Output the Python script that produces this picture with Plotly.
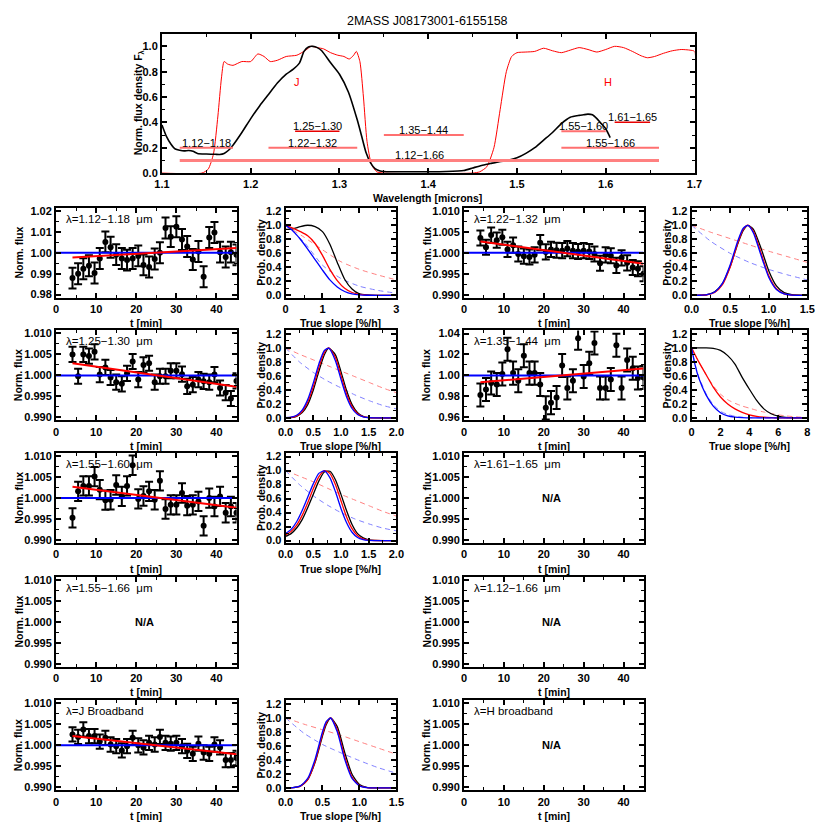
import plotly.graph_objects as go

# ---------------------------------------------------------------- data
# top panel: filter transmission (J and H) and the object's spectrum
filt_wl = [
    1.100, 1.145, 1.152, 1.158, 1.163, 1.167, 1.170, 1.174, 1.180, 1.190,
    1.200, 1.208, 1.215, 1.222, 1.230, 1.240, 1.252, 1.262, 1.268, 1.275,
    1.282, 1.290, 1.298, 1.305, 1.311, 1.316, 1.319, 1.323, 1.327, 1.331,
    1.336, 1.342, 1.350, 1.450, 1.458, 1.466, 1.474, 1.481, 1.488, 1.494,
    1.500, 1.510, 1.520, 1.530, 1.540, 1.550, 1.560, 1.570, 1.580, 1.590,
    1.600, 1.610, 1.620, 1.630, 1.640, 1.647, 1.655, 1.665, 1.675, 1.685,
    1.695, 1.700, 1.702]
filt_tr = [
    0.00, 0.00, 0.03, 0.15, 0.45, 0.75, 0.88, 0.86, 0.85, 0.88,
    0.88, 0.94, 0.92, 0.88, 0.89, 0.92, 0.93, 0.97, 1.00, 0.99,
    0.98, 0.95, 0.93, 0.92, 0.90, 0.93, 0.96, 0.88, 0.60, 0.25,
    0.07, 0.01, 0.00, 0.00, 0.01, 0.05, 0.20, 0.50, 0.80, 0.92,
    0.95, 0.955, 0.96, 0.985, 0.965, 0.95, 0.97, 0.99, 0.975, 0.955,
    0.975, 1.00, 0.99, 0.96, 0.925, 0.91, 0.92, 0.945, 0.965, 0.975,
    0.97, 0.96, 0.50]
spec_wl = [
    1.100, 1.105, 1.110, 1.115, 1.120, 1.125, 1.130, 1.135, 1.140, 1.150,
    1.160, 1.165, 1.170, 1.175, 1.180, 1.190, 1.200, 1.210, 1.220, 1.230,
    1.240, 1.248, 1.255, 1.260, 1.265, 1.270, 1.275, 1.280, 1.290, 1.300,
    1.310, 1.320, 1.325, 1.330, 1.335, 1.340, 1.345, 1.350, 1.360, 1.380,
    1.400, 1.420, 1.440, 1.450, 1.460, 1.470, 1.480, 1.490, 1.500, 1.510,
    1.520, 1.530, 1.540, 1.550, 1.560, 1.570, 1.575, 1.580, 1.585, 1.590,
    1.595, 1.600, 1.605]
spec_fl = [
    0.38, 0.29, 0.23, 0.19, 0.18, 0.175, 0.178, 0.172, 0.155, 0.150,
    0.148, 0.147, 0.155, 0.18, 0.22, 0.32, 0.43, 0.53, 0.62, 0.71,
    0.78, 0.82, 0.87, 0.96, 0.995, 1.00, 0.99, 0.965, 0.87, 0.78,
    0.64, 0.42, 0.29, 0.16, 0.08, 0.035, 0.018, 0.012, 0.010, 0.010,
    0.010, 0.012, 0.020, 0.040, 0.060, 0.075, 0.090, 0.100, 0.120, 0.155,
    0.20, 0.26, 0.32, 0.39, 0.44, 0.455, 0.46, 0.465, 0.46, 0.43,
    0.39, 0.35, 0.28]

# wavelength bands (microns) and the level they are drawn at
band_lo = [1.12, 1.22, 1.25, 1.35, 1.12, 1.55, 1.61, 1.55]
band_hi = [1.18, 1.32, 1.30, 1.44, 1.66, 1.60, 1.65, 1.66]
band_lvl = [0.20, 0.20, 0.33, 0.30, 0.10, 0.33, 0.40, 0.20]

# light curves
t_min = [4.1, 5.5, 6.8, 8.2, 9.6, 10.9, 12.3, 13.6, 15.0, 16.4,
         17.7, 19.1, 20.5, 21.8, 23.2, 24.6, 25.9, 27.3, 28.6, 30.0,
         31.4, 32.7, 34.1, 35.5, 36.8, 38.2, 39.5, 40.9, 42.3, 43.6, 45.0]
flux_112_118 = [0.9879, 0.9900, 0.9924, 0.9938, 0.9903, 0.9973, 1.0052, 1.0026, 0.9991, 0.9973,
                0.9965, 0.9973, 0.9985, 0.9942, 0.9932, 0.9970, 1.0000, 1.0118, 1.0077, 1.0124,
                1.0063, 1.0030, 0.9968, 1.0006, 0.9885, 1.0073, 1.0097, 1.0003, 0.9980, 1.0003, 0.9990]
flux_122_132 = [1.0035, 1.0013, 1.0042, 1.0030, 1.0037, 1.0008, 1.0018, 0.9997, 0.9992, 0.9990,
                0.9995, 1.0024, 1.0002, 1.0008, 1.0006, 1.0005, 1.0010, 1.0005, 1.0003, 1.0005,
                1.0003, 0.9997, 0.9975, 0.9995, 0.9993, 0.9970, 0.9988, 0.9976, 0.9965, 0.9962, 0.9950]
flux_125_130 = [1.0050, 0.9998, 1.0050, 1.0046, 1.0056, 1.0002, 1.0019, 0.9995, 0.9984, 0.9980,
                1.0005, 1.0033, 0.9990, 1.0025, 1.0029, 0.9984, 0.9998, 0.9998, 1.0011, 1.0011,
                1.0003, 0.9974, 0.9978, 0.9990, 0.9986, 0.9984, 1.0002, 0.9970, 0.9959, 0.9945, 0.9987]
flux_135_144 = [0.9813, 0.9866, 0.9928, 0.9913, 1.0013, 1.0250, 1.0022, 0.9950, 1.0188, 1.0022,
                1.0022, 0.9913, 0.9690, 0.9740, 0.9790, 1.0094, 0.9880, 0.9950, 1.0356, 0.9990,
                1.0116, 1.0310, 0.9880, 0.9880, 0.9960, 1.0288, 0.9880, 1.0147, 1.0069, 0.9975, 0.9980]
flux_155_160 = [0.9953, 1.0016, 1.0029, 1.0029, 1.0051, 1.0020, 0.9995, 0.9996, 1.0031, 1.0004,
                1.0029, 1.0078, 0.9998, 1.0005, 1.0016, 0.9996, 1.0041, 0.9974, 0.9984, 0.9984,
                1.0012, 0.9982, 0.9984, 0.9992, 0.9934, 1.0000, 0.9980, 1.0004, 0.9965, 0.9980, 0.9965]
flux_jband = [1.0026, 1.0020, 1.0038, 1.0022, 1.0022, 1.0009, 1.0018, 1.0002, 0.9998, 0.9988,
              0.9998, 1.0018, 1.0000, 0.9995, 1.0006, 1.0002, 1.0020, 1.0006, 1.0004, 1.0006,
              0.9998, 0.9987, 0.9980, 1.0004, 0.9983, 0.9980, 1.0002, 0.9995, 0.9965, 0.9965, 0.9970]
err_112_118 = 0.0050
err_122_132 = 0.0018
err_125_130 = 0.0018
err_135_144 = 0.0110
err_155_160 = 0.0023
err_jband = 0.0017

# linear fits (start/end) and the flat reference
fit_t = [4.1, 45.0]
fit_112_118 = [0.9977, 1.0023]
fit_122_132 = [1.0027, 0.9974]
fit_125_130 = [1.0029, 0.9973]
fit_135_144 = [0.9935, 1.0065]
fit_155_160 = [1.0027, 0.9977]
fit_jband = [1.0022, 0.9979]
flat_t = [0.0, 45.0]
flat_flux = [1.0, 1.0]

# slope probability densities
p112_x = [0, 0.2, 0.4, 0.6, 0.8, 1.0, 1.2, 1.4, 1.6, 1.8, 2.0, 2.2, 2.5, 3.0]
p112_black = [0.94, 0.95, 0.98, 1.00, 0.98, 0.91, 0.73, 0.47, 0.23, 0.09, 0.02, 0.005, 0, 0]
p112_red = [1.00, 0.96, 0.91, 0.85, 0.74, 0.57, 0.37, 0.21, 0.10, 0.04, 0.012, 0.003, 0, 0]
p112_blue = [1.00, 0.92, 0.80, 0.66, 0.51, 0.36, 0.22, 0.12, 0.055, 0.02, 0.006, 0.001, 0, 0]
p112_xd = [0, 0.5, 1.0, 1.5, 2.0, 2.5, 3.0]
p112_red_d = [1.00, 0.83, 0.65, 0.48, 0.37, 0.29, 0.22]
p112_blue_d = [1.00, 0.76, 0.43, 0.24, 0.13, 0.07, 0.03]

p122_x = [0.0, 0.1, 0.2, 0.3, 0.4, 0.5, 0.6, 0.67, 0.73, 0.8, 0.9, 1.0, 1.1, 1.2, 1.3, 1.5]
p122_black = [0, 0.002, 0.011, 0.05, 0.168, 0.411, 0.739, 0.927, 0.998, 0.946, 0.674, 0.352, 0.135, 0.038, 0.008, 0]
p122_red = [0, 0.001, 0.008, 0.041, 0.152, 0.40, 0.747, 0.94, 1.0, 0.918, 0.607, 0.283, 0.094, 0.022, 0.004, 0]
p122_blue = [0, 0.001, 0.009, 0.047, 0.17, 0.433, 0.78, 0.958, 0.998, 0.895, 0.571, 0.258, 0.082, 0.019, 0.003, 0]
p122_xd = [0, 0.25, 0.5, 0.75, 1.0, 1.25, 1.5]
p122_red_d = [1.00, 0.90, 0.81, 0.72, 0.63, 0.55, 0.47]
p122_blue_d = [1.00, 0.77, 0.60, 0.47, 0.37, 0.29, 0.22]

p125_x = [0, 0.1, 0.2, 0.3, 0.4, 0.5, 0.6, 0.7, 0.78, 0.9, 1.0, 1.1, 1.2, 1.3, 1.4, 1.5, 1.6, 2.0]
p125_black = [0.001, 0.006, 0.024, 0.076, 0.191, 0.395, 0.662, 0.902, 0.996, 0.902, 0.662, 0.395, 0.191, 0.076, 0.024, 0.006, 0.001, 0]
p125_red = [0.002, 0.008, 0.031, 0.093, 0.225, 0.445, 0.716, 0.936, 1.0, 0.862, 0.607, 0.347, 0.162, 0.061, 0.019, 0.005, 0.001, 0]
p125_blue = [0.003, 0.011, 0.039, 0.112, 0.262, 0.497, 0.768, 0.963, 0.996, 0.817, 0.552, 0.303, 0.135, 0.049, 0.015, 0.004, 0.001, 0]
p125_xd = [0, 0.25, 0.5, 0.75, 1.0, 1.25, 1.5, 1.75, 2.0]
p125_red_d = [1.00, 0.91, 0.83, 0.75, 0.67, 0.59, 0.51, 0.43, 0.36]
p125_blue_d = [1.00, 0.80, 0.65, 0.53, 0.43, 0.33, 0.25, 0.18, 0.13]

p135_x = [0, 0.25, 0.5, 1.0, 1.5, 2.0, 2.5, 3.0, 3.5, 4.0, 4.5, 5.0, 5.5, 6.0, 6.5, 7.0, 8.0]
p135_black = [1.0, 1.0, 1.0, 1.0, 0.995, 0.965, 0.89, 0.77, 0.58, 0.41, 0.25, 0.13, 0.06, 0.025, 0.008, 0.002, 0]
p135_red = [1.0, 0.90, 0.80, 0.62, 0.44, 0.30, 0.20, 0.13, 0.08, 0.045, 0.022, 0.01, 0.004, 0.001, 0, 0, 0]
p135_blue = [1.0, 0.75, 0.57, 0.33, 0.17, 0.075, 0.03, 0.012, 0.004, 0.001, 0, 0, 0, 0, 0, 0, 0]
p135_red_d = [1.0, 0.90, 0.80, 0.62, 0.46, 0.34, 0.26, 0.21, 0.17, 0.14, 0.11, 0.085, 0.065, 0.045, 0.03, 0.02, 0.005]
p135_blue_d = [1.0, 0.76, 0.59, 0.35, 0.19, 0.095, 0.05, 0.025, 0.012, 0.006, 0.003, 0.001, 0, 0, 0, 0, 0]

p155_x = [0, 0.1, 0.2, 0.3, 0.4, 0.5, 0.6, 0.7, 0.8, 0.9, 1.0, 1.1, 1.2, 1.3, 1.4, 1.5, 1.6, 1.8, 2.0]
p155_black = [0.06, 0.10, 0.18, 0.30, 0.47, 0.66, 0.85, 0.98, 0.99, 0.87, 0.66, 0.43, 0.23, 0.10, 0.04, 0.012, 0.003, 0, 0]
p155_red = [0.08, 0.13, 0.22, 0.36, 0.54, 0.74, 0.91, 1.00, 0.96, 0.80, 0.57, 0.34, 0.17, 0.07, 0.025, 0.007, 0.002, 0, 0]
p155_blue = [0.10, 0.16, 0.27, 0.43, 0.62, 0.81, 0.96, 0.995, 0.90, 0.70, 0.46, 0.26, 0.12, 0.045, 0.015, 0.004, 0.001, 0, 0]
p155_xd = [0, 0.25, 0.5, 0.75, 1.0, 1.25, 1.5, 1.75, 2.0]
p155_red_d = [1.00, 0.92, 0.84, 0.75, 0.66, 0.58, 0.50, 0.42, 0.35]
p155_blue_d = [1.00, 0.80, 0.64, 0.51, 0.40, 0.31, 0.24, 0.18, 0.14]

pj_x = [0, 0.1, 0.2, 0.3, 0.4, 0.5, 0.55, 0.61, 0.7, 0.8, 0.9, 1.0, 1.1, 1.2, 1.5]
pj_black = [0, 0.004, 0.025, 0.118, 0.365, 0.741, 0.903, 0.998, 0.875, 0.509, 0.195, 0.049, 0.008, 0.001, 0]
pj_red = [0, 0.003, 0.024, 0.118, 0.375, 0.764, 0.923, 1.0, 0.835, 0.448, 0.154, 0.034, 0.005, 0, 0]
pj_blue = [0, 0.004, 0.029, 0.135, 0.411, 0.801, 0.946, 0.998, 0.801, 0.411, 0.135, 0.029, 0.004, 0, 0]
pj_xd = [0, 0.25, 0.5, 0.75, 1.0, 1.25, 1.5]
pj_red_d = [1.00, 0.91, 0.83, 0.75, 0.66, 0.57, 0.48]
pj_blue_d = [1.00, 0.78, 0.62, 0.50, 0.39, 0.29, 0.21]

# ---------------------------------------------------------------- layout
W = H = 830
FONT = "Liberation Sans"
COLS = {"A": (49, 233), "B": (283, 396), "C": (465, 648), "D": (697, 815)}
ROWS = [(207, 298), (331, 422), (455, 546), (580, 671), (705, 796)]

fig = go.Figure()
lay = dict(width=W, height=H, margin=dict(l=0, r=0, t=0, b=0),
           paper_bgcolor="white", plot_bgcolor="white", showlegend=False,
           font=dict(family=FONT, color="black"))
notes = []
n_ax = [0]


def new_axes(xpx, ypx, xr, yr, xdt, ydt, xfmt, yfmt, xminor, yminor, ytick0=0.0):
    n_ax[0] += 1
    s = "" if n_ax[0] == 1 else str(n_ax[0])
    base = dict(showline=True, linecolor="black", linewidth=2, mirror="allticks",
                ticks="inside", ticklen=5, tickwidth=1.5, tickcolor="black",
                showgrid=False, zeroline=False,
                tickfont=dict(family=FONT, size=11, color="black", weight="bold"))
    lay["xaxis" + s] = dict(base, domain=[xpx[0] / W, xpx[1] / W], anchor="y" + s,
                            range=xr, tick0=0, dtick=xdt, tickformat=xfmt,
                            minor=dict(tick0=0, dtick=xminor, ticks="inside", ticklen=3,
                                       tickcolor="black", tickwidth=1))
    lay["yaxis" + s] = dict(base, domain=[1 - ypx[1] / H, 1 - ypx[0] / H], anchor="x" + s,
                            range=yr, tick0=ytick0, dtick=ydt, tickformat=yfmt,
                            minor=dict(tick0=ytick0, dtick=yminor, ticks="inside", ticklen=3,
                                       tickcolor="black", tickwidth=1))
    return "x" + s, "y" + s


def ptext(px, py, s, size=11, bold=False, angle=0, color="black", xanchor="center"):
    notes.append(dict(x=px / W, y=1 - py / H, xref="paper", yref="paper", text=s,
                      showarrow=False, textangle=angle, xanchor=xanchor, yanchor="middle",
                      font=dict(family=FONT, size=size, color=color,
                                weight="bold" if bold else "normal")))


def line(xa, ya, x, y, color, width, dash=None, shape="linear"):
    fig.add_trace(go.Scatter(x=x, y=y, xaxis=xa, yaxis=ya, mode="lines", hoverinfo="skip",
                             line=dict(color=color, width=width, dash=dash, shape=shape,
                                       smoothing=0.6 if shape == "spline" else None)))


# top panel ---------------------------------------------------------
tx, ty = new_axes((157, 700), (31, 172), [1.1, 1.7], [-0.0005, 1.1], 0.1, 0.2,
                  ".1f", ".1f", 0.05, 0.1)
line(tx, ty, filt_wl, filt_tr, "#ff0000", 1, shape="spline")
line(tx, ty, spec_wl, spec_fl, "black", 1.6, shape="spline")
for i, (lo, hi, lv) in enumerate(zip(band_lo, band_hi, band_lvl)):
    if i in (2, 6):
        col, wd = "#e80000", 1.5
    elif i == 4:
        col, wd = "#ff8080", 3
    else:
        col, wd = "#ff7070", 2
    line(tx, ty, [lo, hi], [lv, lv], col, wd)
    notes.append(dict(x=(lo + hi) / 2, y=lv + 0.04, xref=tx, yref=ty,
                      text=f"{lo:.2f}\u2212{hi:.2f}", showarrow=False, yanchor="middle",
                      font=dict(family=FONT, size=11, color="black")))
for s, wl in (("J", 1.252), ("H", 1.603)):
    notes.append(dict(x=wl, y=0.72, xref=tx, yref=ty, text=s, showarrow=False,
                      font=dict(family=FONT, size=11, color="#ff0000")))
ptext(428, 18, "2MASS J08173001-6155158", size=12.5)
ptext(428, 197, "Wavelength [microns]", size=10.5, bold=True)
ptext(133, 101, "Norm. flux density F<sub>\u03bb</sub>", size=10.5, bold=True, angle=-90)


# light curve panels -------------------------------------------------
def lc_panel(col, row, label, flux=None, err=None, fit=None,
             yr=(0.9893, 1.0107), ydt=0.005, yfmt=".3f"):
    xpx, ypx = COLS[col], ROWS[row]
    xa, ya = new_axes(xpx, ypx, [0, 45], list(yr), 10, ydt, "d", yfmt, 5, ydt / 2, ytick0=1.0)
    ptext(xpx[0] + 8, ypx[0] + 11, label, size=11.5, xanchor="left")
    ptext(xpx[0] - 38, (ypx[0] + ypx[1]) / 2, "Norm. flux", size=10.5, bold=True, angle=-90)
    ptext((xpx[0] + xpx[1]) / 2, ypx[1] + 26, "t [min]", size=10.5, bold=True)
    if flux is None:
        notes.append(dict(x=22, y=1.0, xref=xa, yref=ya, text="N/A", showarrow=False,
                          font=dict(family=FONT, size=11, color="black", weight="bold")))
        return
    fig.add_trace(go.Scatter(x=t_min, y=flux, xaxis=xa, yaxis=ya, mode="markers",
                             marker=dict(size=6, color="black"),
                             error_y=dict(type="constant", value=err, thickness=2,
                                          width=4, color="black")))
    line(xa, ya, flat_t, flat_flux, "#0000ff", 2)
    line(xa, ya, fit_t, fit, "#ff0000", 2)


def prob_panel(col, row, xr, xdt, xfmt, xs, black, red, blue, xd, red_d, blue_d):
    xpx, ypx = COLS[col], ROWS[row]
    xa, ya = new_axes(xpx, ypx, xr, [-0.035, 1.25], xdt, 0.2, xfmt, ".1f", xdt / 2, 0.1)
    ptext(xpx[0] - 25, (ypx[0] + ypx[1]) / 2, "Prob. density", size=10.5, bold=True, angle=-90)
    ptext((xpx[0] + xpx[1]) / 2, ypx[1] + 26, "True slope [%/h]", size=10.5, bold=True)
    line(xa, ya, xd, red_d, "#ff8080", 1, dash="5px,4px", shape="spline")
    line(xa, ya, xd, blue_d, "#8080ff", 1, dash="5px,4px", shape="spline")
    line(xa, ya, xs, black, "black", 1.3, shape="spline")
    line(xa, ya, xs, red, "#ff0000", 1.3, shape="spline")
    line(xa, ya, xs, blue, "#0000ff", 1.3, shape="spline")


lc_panel("A", 0, "\u03bb=1.12\u22121.18 \u00a0\u03bcm", flux_112_118, err_112_118, fit_112_118,
         yr=(0.9785, 1.0215), ydt=0.01, yfmt=".2f")
prob_panel("B", 0, [0, 3.0001], 1, "d", p112_x, p112_black, p112_red, p112_blue,
           p112_xd, p112_red_d, p112_blue_d)
lc_panel("C", 0, "\u03bb=1.22\u22121.32 \u00a0\u03bcm", flux_122_132, err_122_132, fit_122_132)
prob_panel("D", 0, [0, 1.5001], 0.5, ".1f", p122_x, p122_black, p122_red, p122_blue,
           p122_xd, p122_red_d, p122_blue_d)

lc_panel("A", 1, "\u03bb=1.25\u22121.30 \u00a0\u03bcm", flux_125_130, err_125_130, fit_125_130)
prob_panel("B", 1, [0, 2.0001], 0.5, ".1f", p125_x, p125_black, p125_red, p125_blue,
           p125_xd, p125_red_d, p125_blue_d)
lc_panel("C", 1, "\u03bb=1.35\u22121.44 \u00a0\u03bcm", flux_135_144, err_135_144, fit_135_144,
         yr=(0.957, 1.043), ydt=0.02, yfmt=".2f")
prob_panel("D", 1, [0, 8.001], 2, "d", p135_x, p135_black, p135_red, p135_blue,
           p135_x, p135_red_d, p135_blue_d)

lc_panel("A", 2, "\u03bb=1.55\u22121.60 \u00a0\u03bcm", flux_155_160, err_155_160, fit_155_160)
prob_panel("B", 2, [0, 2.0001], 0.5, ".1f", p155_x, p155_black, p155_red, p155_blue,
           p155_xd, p155_red_d, p155_blue_d)
lc_panel("C", 2, "\u03bb=1.61\u22121.65 \u00a0\u03bcm")

lc_panel("A", 3, "\u03bb=1.55\u22121.66 \u00a0\u03bcm")
lc_panel("C", 3, "\u03bb=1.12\u22121.66 \u00a0\u03bcm")

lc_panel("A", 4, "\u03bb=J Broadband", flux_jband, err_jband, fit_jband)
prob_panel("B", 4, [0, 1.5001], 0.5, ".1f", pj_x, pj_black, pj_red, pj_blue,
           pj_xd, pj_red_d, pj_blue_d)
lc_panel("C", 4, "\u03bb=H broadband")

lay["annotations"] = notes
fig.update_layout(**lay)
# the page's default 8px body margin would shift the whole figure
fig.write_html("out.html", config={"displayModeBar": False},
               post_script="document.body.style.margin='0';"
                           "document.body.style.overflow='hidden';")
